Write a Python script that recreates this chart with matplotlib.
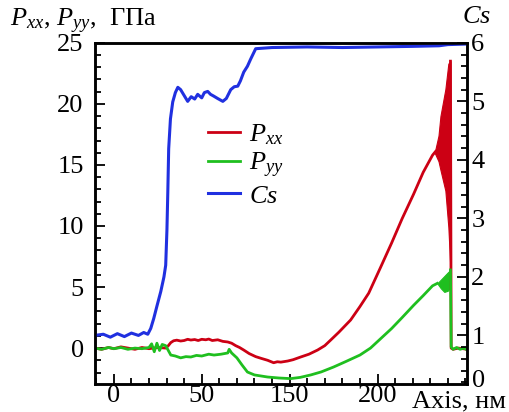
import matplotlib
matplotlib.use("Agg")
import matplotlib.pyplot as plt
from matplotlib.ticker import MultipleLocator

plt.rcParams['font.family'] = ['Liberation Serif', 'DejaVu Serif']
plt.rcParams['mathtext.fontset'] = 'custom'
plt.rcParams['mathtext.rm'] = 'Liberation Serif'
plt.rcParams['mathtext.it'] = 'Liberation Serif:italic'

# coordinate along the axis, nm
x_pxx = [-10.8, -7, -3, 0, 4, 8, 12, 16, 20, 25, 29.5, 31, 32.4, 34, 35.8, 38, 40, 42,
         43.8, 46, 48, 50, 52.3, 54, 56, 59.1, 62, 64.8, 67, 69.3, 71.5, 73.9, 77,
         80.7, 84, 87.5, 90.9, 93, 95, 98.9, 102, 106.3, 111, 115.9, 120, 123.3, 128,
         134.7, 140, 145, 151.7, 158, 164, 170.5, 176, 181.3, 183]
y_pxx = [0.0, -0.1, 0.05, -0.05, 0.1, 0.0, -0.1, 0.05, -0.05, 0.05, 0.0, 0.2, 0.45,
         0.6, 0.65, 0.58, 0.62, 0.72, 0.66, 0.7, 0.62, 0.72, 0.68, 0.74, 0.62, 0.68,
         0.55, 0.5, 0.4, 0.2, 0.05, -0.16, -0.45, -0.7, -0.85, -1.0, -1.2, -1.12,
         -1.15, -1.06, -0.95, -0.73, -0.5, -0.16, 0.2, 0.65, 1.3, 2.3, 3.4, 4.5, 6.6,
         8.6, 10.6, 12.6, 14.4, 15.8, 16.1]

# oscillating part of Pxx before the drop
x_pxx_band = [182.5, 184.7, 185.8, 188.6, 190.3, 191.5]
lo_pxx_band = [16.0, 15.3, 14.6, 12.9, 9.9, 6.4]
hi_pxx_band = [16.0, 17.4, 19.0, 21.2, 23.3, 23.5]
x_pxx_tail = [191.5, 191.9, 193, 196, 201]
y_pxx_tail = [23.5, 0.0, -0.1, 0.0, -0.1]

x_pyy = [-10.8, -7, -3, 0, 4, 8, 12, 16, 20, 21.5, 23, 24.5, 26, 27.5, 29.5, 31, 32.4,
         35, 38, 41, 43.8, 47, 50, 54, 57, 61, 64.8, 65.6, 67, 70, 73, 76, 80, 87.5,
         94, 100.6, 106, 112, 118, 125, 132, 140, 146, 152, 158, 164, 170.5, 176,
         181.3, 184]
y_pyy = [0.0, -0.1, 0.05, -0.05, 0.05, -0.1, 0.0, -0.05, 0.05, 0.35, -0.3, 0.4, -0.2,
         0.3, 0.2, -0.2, -0.57, -0.65, -0.8, -0.7, -0.73, -0.6, -0.65, -0.5, -0.57,
         -0.5, -0.4, -0.1, -0.4, -0.8, -1.4, -1.96, -2.2, -2.37, -2.45, -2.5, -2.4,
         -2.2, -1.95, -1.55, -1.1, -0.57, 0.0, 0.8, 1.6, 2.5, 3.5, 4.3, 5.1, 5.3]

# oscillating part of Pyy
x_pyy_band = [184, 186, 188, 190, 191.5]
lo_pyy_band = [5.3, 4.9, 4.6, 4.7, 5.0]
hi_pyy_band = [5.3, 5.6, 5.9, 6.2, 6.4]
x_pyy_tail = [191.5, 191.9, 193, 195, 197, 199, 201]
y_pyy_tail = [6.4, 0.1, -0.1, 0.05, -0.1, 0.0, -0.15]

x_cs = [-10.8, -6, -2, 2, 6, 10, 14, 17, 19.3, 21, 22.7, 24.5, 26.7, 28.5, 29.5,
        30.2, 30.7, 31.2, 32.2, 33.5, 35, 36.4, 38, 40, 42, 44, 46, 47.7, 50, 51.5,
        53.4, 55, 56.8, 59, 62, 64, 66.5, 68.5, 70.5, 72, 73.9, 76, 77.8, 80.7, 90,
        110, 130, 150, 170, 185, 190, 201]
y_cs = [1.0, 1.02, 0.97, 1.03, 0.98, 1.04, 1.0, 1.05, 1.02, 1.12, 1.29, 1.5, 1.75,
        2.0, 2.2, 2.8, 3.45, 4.19, 4.7, 4.99, 5.15, 5.24, 5.2, 5.1, 5.0, 5.08, 5.04,
        5.12, 5.06, 5.15, 5.17, 5.12, 5.09, 5.05, 5.0, 5.05, 5.2, 5.25, 5.26, 5.35,
        5.5, 5.6, 5.72, 5.9, 5.92, 5.93, 5.92, 5.93, 5.94, 5.95, 5.97, 5.98]

xtick_pos = [0, 50, 100, 150]
xtick_labels = ['0', '50', '150', '200']

c_pxx = '#cc0014'
c_pyy = '#1fbf1f'
c_cs = '#2030e0'

fig = plt.figure(figsize=(5.10, 4.12), dpi=100)
ax = fig.add_axes([0.186, 0.068, 0.730, 0.828])
ax2 = ax.twinx()

l1, = ax.plot(x_pxx, y_pxx, color=c_pxx, lw=2)
ax.fill_between(x_pxx_band, lo_pxx_band, hi_pxx_band, color=c_pxx, lw=0.8)
ax.plot(x_pxx_tail, y_pxx_tail, color=c_pxx, lw=2)
l2, = ax.plot(x_pyy, y_pyy, color=c_pyy, lw=2)
ax.fill_between(x_pyy_band, lo_pyy_band, hi_pyy_band, color=c_pyy, lw=0.8)
ax.plot(x_pyy_tail, y_pyy_tail, color=c_pyy, lw=2)
l3, = ax2.plot(x_cs, y_cs, color=c_cs, lw=2.2)

ax.set_xlim(-10.8, 201)
ax.set_ylim(-2.94, 25)
ax2.set_ylim(0.17, 6)

ax.set_xticks(xtick_pos, xtick_labels)
ax.xaxis.set_minor_locator(MultipleLocator(10))
ax.yaxis.set_major_locator(MultipleLocator(5))
ax.yaxis.set_minor_locator(MultipleLocator(1))
ax2.yaxis.set_major_locator(MultipleLocator(1))
ax2.yaxis.set_minor_locator(MultipleLocator(0.2))

for a in (ax, ax2):
    a.tick_params(which='both', direction='in', labelsize=19, width=1.3, pad=4)
    a.tick_params(which='major', length=7)
    a.tick_params(which='minor', length=4)
    for s in a.spines.values():
        s.set_linewidth(1.8)
ax.tick_params(axis='y', which='both', right=False, pad=8)
ax.tick_params(axis='x', which='both', top=False, pad=1)
ax2.tick_params(axis='y', pad=3)

ax2.text(1.012, 0.01, '0', transform=ax2.transAxes, fontsize=19,
         ha='left', va='center')

ax2.legend([l1, l2, l3], [r'$P_{xx}$', r'$P_{yy}$', r'$Cs$'],
           loc='upper left', bbox_to_anchor=(0.305, 0.768), frameon=False,
           fontsize=19, handlelength=1.2, handletextpad=0.35,
           labelspacing=0.16, borderpad=0, borderaxespad=0)

fig.text(0.02, 0.935, r'$P_{xx}$, $P_{yy}$,  ГПа', fontsize=19,
         ha='left', va='baseline')
fig.text(0.905, 0.945, r'$Cs$', fontsize=19, ha='left', va='baseline')
fig.text(0.808, 0.012, 'Axis, нм', fontsize=19, ha='left', va='baseline')

fig.savefig('out.png', dpi=100)
